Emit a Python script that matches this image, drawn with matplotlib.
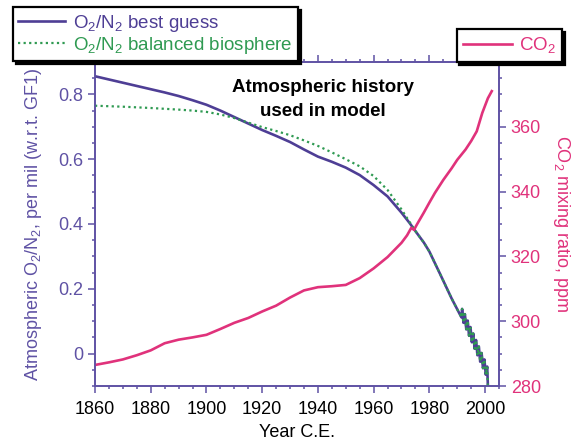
import matplotlib
import matplotlib.pyplot as plt
from matplotlib.ticker import MultipleLocator, FuncFormatter
from matplotlib.lines import Line2D

matplotlib.use("Agg")

plt.rcParams["font.family"] = ["Liberation Sans", "DejaVu Sans"]
plt.rcParams["mathtext.fontset"] = "custom"
plt.rcParams["mathtext.rm"] = "Liberation Sans"
plt.rcParams["mathtext.it"] = "Liberation Sans:italic"

PURPLE = "#4e3e95"
AXIS_PURPLE = "#5f52a4"
GREEN = "#2f9a52"
PINK = "#e0327b"

# O2/N2 best guess, per mil
o2_years = [1860, 1865, 1870, 1875, 1880, 1885, 1890, 1895, 1900, 1905, 1910,
            1915, 1920, 1925, 1930, 1935, 1940, 1945, 1950, 1955, 1960, 1965,
            1970, 1973]
o2_best = [0.856, 0.846, 0.836, 0.826, 0.816, 0.806, 0.795, 0.782, 0.768, 0.750,
           0.730, 0.710, 0.690, 0.672, 0.653, 0.630, 0.608, 0.592, 0.574, 0.551,
           0.520, 0.485, 0.435, 0.402]

# O2/N2 balanced biosphere, per mil
bio_years = [1860, 1870, 1880, 1890, 1895, 1900, 1905, 1910, 1915, 1920, 1925,
             1930, 1935, 1940, 1945, 1950, 1955, 1960, 1965, 1970, 1973]
bio_vals = [0.765, 0.762, 0.758, 0.753, 0.750, 0.746, 0.738, 0.727, 0.713, 0.699,
            0.687, 0.674, 0.658, 0.641, 0.621, 0.600, 0.578, 0.548, 0.505, 0.445,
            0.405]

# shared record after 1973 (flask period with seasonal cycle)
late_years = [1975, 1978, 1980, 1984, 1988, 1991.5, 1991.75, 1992.25, 1992.75,
              1993.25, 1993.75, 1994.25, 1994.75, 1995.25, 1995.75, 1996.25,
              1996.75, 1997.25, 1997.75, 1998.25, 1998.75, 1999.25, 1999.75,
              2000.25, 2000.75, 2001.0]
late_vals = [0.378, 0.343, 0.315, 0.243, 0.170, 0.112, 0.138, 0.095, 0.122,
             0.075, 0.102, 0.055, 0.082, 0.035, 0.062, 0.015,
             0.042, -0.005, 0.022, -0.025, 0.002, -0.045, -0.018,
             -0.065, -0.040, -0.098]

# CO2 mixing ratio, ppm
co2_years = [1860, 1865, 1870, 1875, 1880, 1885, 1890, 1895, 1900, 1905,
             1910, 1915, 1920, 1925, 1930, 1935, 1940, 1945, 1950, 1955,
             1960, 1965, 1970, 1972, 1973.5, 1974.5, 1975.5, 1978, 1980, 1982,
             1985, 1988, 1990, 1993, 1995, 1997, 1999, 2001, 2002.4]
co2_ppm = [286.5, 287.3, 288.2, 289.5, 291.0, 293.2, 294.3, 295.0, 295.8, 297.6,
           299.5, 301.0, 303.0, 304.8, 307.3, 309.5, 310.5, 310.8, 311.2, 313.3,
           316.3, 319.8, 324.2, 326.5, 328.8, 328.2, 329.8, 333.5, 336.6, 339.6,
           343.6, 347.2, 349.8, 353.0, 355.6, 358.6, 364.3, 368.8, 371.0]

fig = plt.figure(figsize=(5.81, 4.44), dpi=100)
ax = fig.add_axes([0.1635, 0.1306, 0.6954, 0.7298])
ax2 = ax.twinx()

ax.plot(o2_years + late_years, o2_best + late_vals, color=PURPLE, lw=1.9,
        solid_joinstyle="round", zorder=3)
ax.plot(bio_years + late_years, bio_vals + late_vals, color=GREEN, lw=1.6,
        linestyle=(0, (1, 1.5)), zorder=4)
ax2.plot(co2_years, co2_ppm, color=PINK, lw=1.9)

ax.set_xlim(1860, 2005)
ax.set_ylim(-0.1, 0.9)
ax2.set_ylim(280, 380)

ax.xaxis.set_major_locator(MultipleLocator(20))
ax.xaxis.set_minor_locator(MultipleLocator(5))
ax.yaxis.set_minor_locator(MultipleLocator(0.05))
ax.set_yticks([0, 0.2, 0.4, 0.6, 0.8])
ax.yaxis.set_major_formatter(FuncFormatter(lambda v, p: "0" if abs(v) < 1e-9 else f"{v:.1f}"))
ax2.yaxis.set_minor_locator(MultipleLocator(5))
ax2.set_yticks([280, 300, 320, 340, 360])

for a in (ax, ax2):
    for s in a.spines.values():
        s.set_color(AXIS_PURPLE)
        s.set_linewidth(1.2)

ax.tick_params(which="both", direction="out", color=AXIS_PURPLE, width=1.1,
               top=True, labelsize=13)
ax.tick_params(which="major", length=5)
ax.tick_params(which="minor", length=2.5)
ax.tick_params(axis="x", labelcolor="black", pad=6)
ax.tick_params(axis="y", labelcolor=AXIS_PURPLE)
ax2.tick_params(which="both", direction="out", color=AXIS_PURPLE, width=1.1,
                labelsize=13, labelcolor=PINK)
ax2.tick_params(which="major", length=5)
ax2.tick_params(which="minor", length=2.5)

ax.set_xlabel("Year C.E.", fontsize=13, labelpad=4)
ax.set_ylabel("Atmospheric O$_2$/N$_2$, per mil (w.r.t. GF1)", fontsize=13,
              color=AXIS_PURPLE, labelpad=10)
ax2.set_ylabel("CO$_2$ mixing ratio, ppm", fontsize=13, color=PINK,
               rotation=270, labelpad=22)

ax.text(0.564, 0.884, "Atmospheric history\nused in model", transform=ax.transAxes,
        ha="center", va="center", fontsize=13.5, fontweight="bold", linespacing=1.6)

shadow = {"color": "black", "alpha": 1}
o2_handles = [Line2D([], [], color=PURPLE, lw=1.9),
              Line2D([], [], color=GREEN, lw=1.6, linestyle=(0, (1, 1.5)))]
leg1 = fig.legend(o2_handles, ["O$_2$/N$_2$ best guess", "O$_2$/N$_2$ balanced biosphere"],
                  loc="upper left", bbox_to_anchor=(0.022, 0.984), fontsize=13.5,
                  handlelength=2.5, handletextpad=0.43, labelspacing=0.05,
                  borderpad=0.3, fancybox=False, shadow=shadow, framealpha=1,
                  edgecolor="black", borderaxespad=0)
leg1.get_frame().set_linewidth(1.6)
leg1.get_texts()[0].set_color(PURPLE)
leg1.get_texts()[1].set_color(GREEN)

leg2 = fig.legend([Line2D([], [], color=PINK, lw=1.9)], ["CO$_2$"],
                  loc="upper left", bbox_to_anchor=(0.786, 0.935), fontsize=13.5,
                  handlelength=2.6, handletextpad=0.35, borderpad=0.35,
                  fancybox=False, shadow=shadow, framealpha=1,
                  edgecolor="black", borderaxespad=0)
leg2.get_frame().set_linewidth(1.6)
leg2.get_texts()[0].set_color(PINK)

fig.savefig("out.png", dpi=100)
